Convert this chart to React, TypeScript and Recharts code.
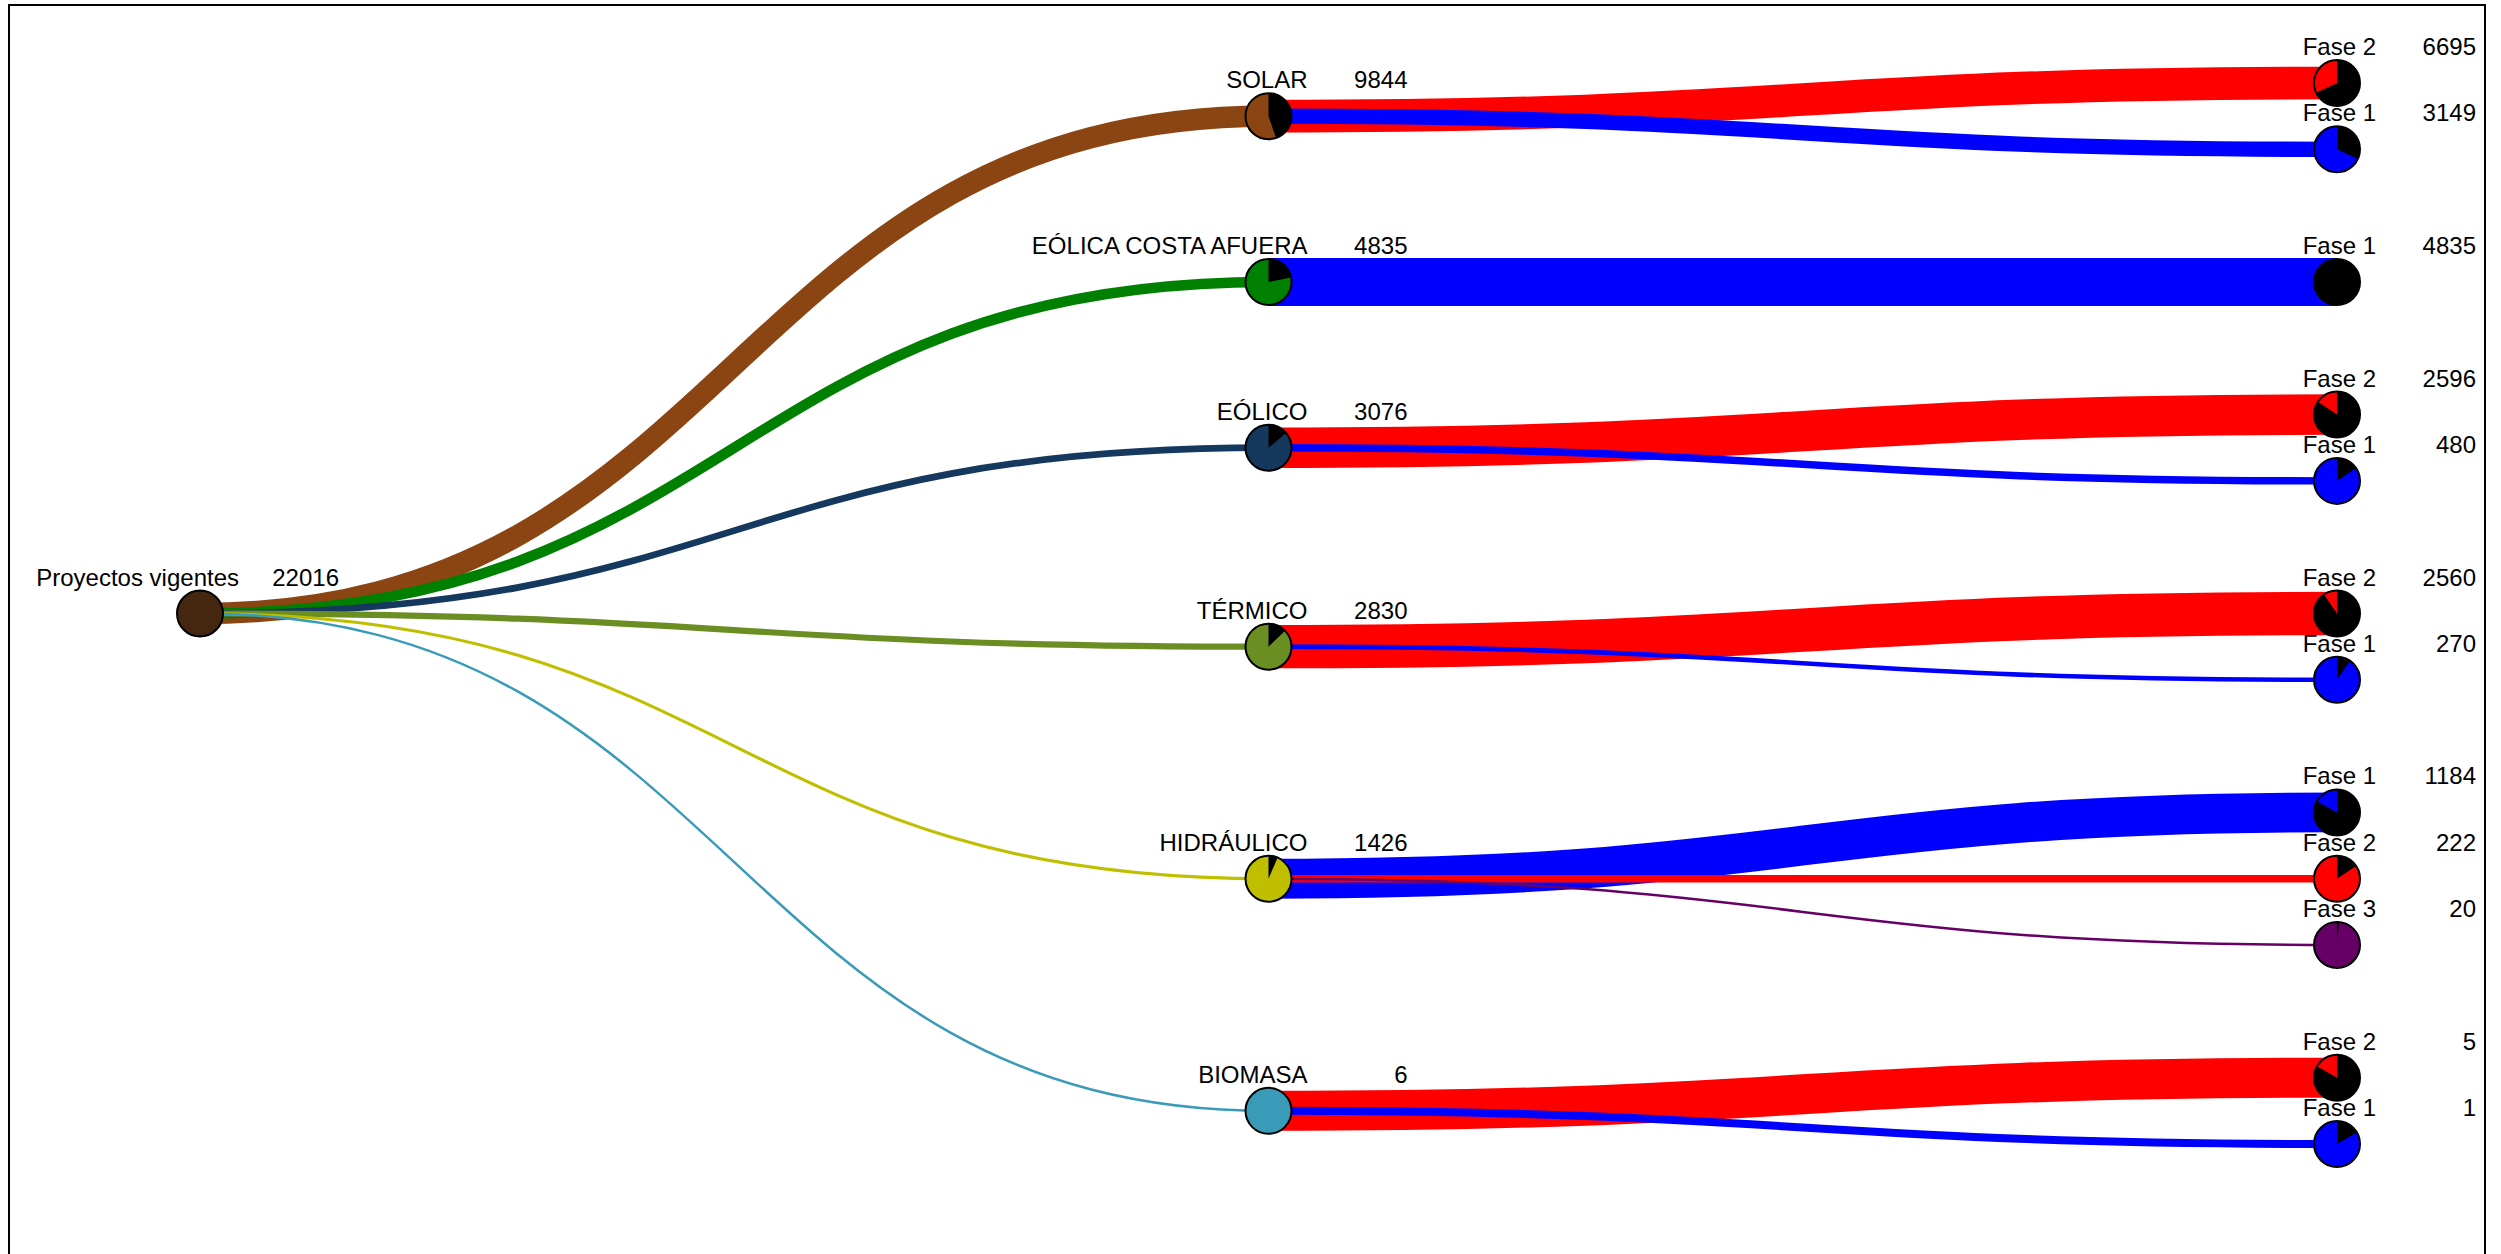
import React from "react";
import { ScatterChart, Scatter, XAxis, YAxis } from "recharts";

const rootLabel = "Proyectos vigentes";
const rootTotal = 22016;

const categories = ["SOLAR", "EÓLICA COSTA AFUERA", "EÓLICO", "TÉRMICO", "HIDRÁULICO", "BIOMASA"];
const categoryTotals = [9844, 4835, 3076, 2830, 1426, 6];

const phaseNames = [
  ["Fase 2", "Fase 1"],
  ["Fase 1"],
  ["Fase 2", "Fase 1"],
  ["Fase 2", "Fase 1"],
  ["Fase 1", "Fase 2", "Fase 3"],
  ["Fase 2", "Fase 1"],
];
const phaseValues = [
  [6695, 3149],
  [4835],
  [2596, 480],
  [2560, 270],
  [1184, 222, 20],
  [5, 1],
];

const ROOT_COLOR = "#45260f";
const CATEGORY_COLORS = ["#8b4513", "#008000", "#15385f", "#6b8e23", "#bfbf00", "#399bb8"];
const PHASE_COLORS: Record<string, string> = {
  "Fase 1": "#0000ff",
  "Fase 2": "#ff0000",
  "Fase 3": "#660066",
};

const R = 23;
const MAX_W = 48;
const MIN_W = 2.5;

// rows: leaves one after another, one empty row between groups, parents centred
type Node = { x: number; y: number; label: string; value: number; color: string; share: number };
const nodes: Node[] = [];
const links: { from: Node; to: Node; color: string; width: number }[] = [];

let row = 0;
const catNodes: Node[] = [];
const leafNodes: Node[][] = [];
categories.forEach((name, i) => {
  const rows = phaseNames[i].map((_, j) => row + j);
  row += rows.length + 1;
  const cat: Node = {
    x: 1,
    y: (rows[0] + rows[rows.length - 1]) / 2,
    label: name,
    value: categoryTotals[i],
    color: CATEGORY_COLORS[i],
    share: categoryTotals[i] / rootTotal,
  };
  catNodes.push(cat);
  leafNodes.push(
    phaseNames[i].map((p, j) => ({
      x: 2,
      y: rows[j],
      label: p,
      value: phaseValues[i][j],
      color: PHASE_COLORS[p],
      share: phaseValues[i][j] / categoryTotals[i],
    }))
  );
});
const lastRow = row - 2;
const root: Node = { x: 0, y: lastRow / 2, label: rootLabel, value: rootTotal, color: ROOT_COLOR, share: 0 };

nodes.push(root, ...catNodes);
leafNodes.forEach((l) => nodes.push(...l));
catNodes.forEach((c) =>
  links.push({ from: root, to: c, color: c.color, width: Math.max(MIN_W, c.share * MAX_W) })
);
leafNodes.forEach((l, i) =>
  l.forEach((n) =>
    links.push({ from: catNodes[i], to: n, color: n.color, width: Math.max(MIN_W, n.share * MAX_W) })
  )
);

const diagonal = (pts: { x: number; y: number }[]) => {
  const [a, b] = pts;
  const mx = (a.x + b.x) / 2;
  return `M${a.x},${a.y} C${mx},${a.y} ${mx},${b.y} ${b.x},${b.y}`;
};

const NodeShape = (props: any) => {
  const { cx, cy, payload } = props;
  const n = payload as Node;
  let slice = null;
  if (n.share >= 0.999) {
    slice = <circle cx={cx} cy={cy} r={R} fill="#000" />;
  } else if (n.share > 0.0005) {
    const ang = n.share * 2 * Math.PI;
    const ex = cx + R * Math.sin(ang);
    const ey = cy - R * Math.cos(ang);
    const large = n.share > 0.5 ? 1 : 0;
    slice = <path d={`M${cx},${cy} L${cx},${cy - R} A${R},${R} 0 ${large} 1 ${ex},${ey} Z`} fill="#000" />;
  }
  return (
    <g>
      <circle cx={cx} cy={cy} r={R} fill={n.color} />
      {slice}
      <circle cx={cx} cy={cy} r={R} fill="none" stroke="#000" strokeWidth={2} />
      <text x={cx + 39} y={cy - 28} textAnchor="end" fontSize={24} fill="#000">
        {n.label}
      </text>
      <text x={cx + 139} y={cy - 28} textAnchor="end" fontSize={24} fill="#000">
        {n.value}
      </text>
    </g>
  );
};

export default function App() {
  return (
    <div
      style={{
        position: "absolute",
        left: 8,
        top: 4,
        width: 2478,
        height: 1250,
        border: "2px solid #000",
        borderBottom: "none",
        boxSizing: "border-box",
        fontFamily: "'Liberation Sans', Arial, sans-serif",
      }}
    >
      <ScatterChart width={2474} height={1248} margin={{ top: 77, right: 147, bottom: 110, left: 190 }}>
        <XAxis type="number" dataKey="x" domain={[0, 2]} hide />
        <YAxis type="number" dataKey="y" domain={[0, lastRow]} reversed hide />
        {links.map((l, i) => (
          <Scatter
            key={`link-${i}`}
            data={[l.from, l.to]}
            isAnimationActive={false}
            lineType="joint"
            line={(p: any) => (
              <path d={diagonal(p.points)} fill="none" stroke={l.color} strokeWidth={l.width} />
            )}
            shape={() => <g />}
          />
        ))}
        <Scatter data={nodes} isAnimationActive={false} shape={NodeShape} />
      </ScatterChart>
    </div>
  );
}
